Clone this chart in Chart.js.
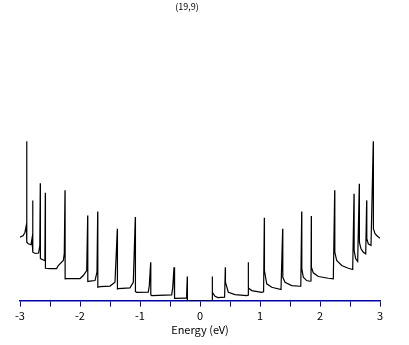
<!DOCTYPE html>
<html>
<head>
<meta charset="utf-8">
<script src="https://cdn.jsdelivr.net/npm/chart.js@4/dist/chart.umd.min.js"></script>
<style>
  body { margin: 0; background: #fff; }
</style>
</head>
<body>
<canvas id="dos_chart" width="409" height="345"></canvas>
<script>
const chartTitle = "(19,9)";
const axisTitle = "Energy (eV)";
const tickLabels = [-3, -2, -1, 0, 1, 2, 3];

// density of states (arbitrary units), valence side
const energyNeg = [
  -3.000, -2.945, -2.917, -2.895, -2.888, -2.886, -2.862, -2.817, -2.800, -2.788,
  -2.786, -2.745, -2.690, -2.670, -2.662, -2.660, -2.595, -2.585, -2.578, -2.576,
  -2.500, -2.390, -2.362, -2.278, -2.262, -2.250, -2.248, -2.222, -2.000, -1.945,
  -1.888, -1.872, -1.870, -1.833, -1.750, -1.717, -1.705, -1.703, -1.667, -1.500,
  -1.417, -1.378, -1.376, -1.362, -1.167, -1.112, -1.078, -1.076, -1.055, -0.862,
  -0.845, -0.822, -0.820, -0.805, -0.472, -0.455, -0.433, -0.431, -0.417, -0.233,
  -0.222, -0.212, -0.210
];
const dosNeg = [
  6.33, 6.5, 6.83, 7.5, 15.9, 5.83, 5.67, 5.57, 6.2, 10.0,
  4.83, 4.7, 4.75, 5.5, 11.7, 4.2, 4.0, 4.5, 10.77, 3.23,
  3.2, 3.2, 3.5, 4.0, 4.7, 11.0, 2.17, 2.2, 2.2, 2.5,
  3.0, 8.5, 1.9, 1.95, 2.0, 2.83, 8.9, 1.33, 1.4, 1.45,
  1.83, 7.17, 1.17, 1.2, 1.27, 1.83, 8.33, 0.9, 0.83, 0.85,
  1.5, 3.83, 0.57, 0.5, 0.57, 1.27, 3.33, 0.27, 0.23, 0.25,
  0.67, 2.4, 0
];

// conduction side
const energyPos = [
  0.205, 0.205, 0.207, 0.250, 0.300, 0.410, 0.422, 0.424, 0.472, 0.583,
  0.778, 0.800, 0.805, 0.807, 0.862, 1.028, 1.060, 1.072, 1.074, 1.112,
  1.195, 1.350, 1.378, 1.380, 1.417, 1.528, 1.667, 1.680, 1.695, 1.697,
  1.722, 1.778, 1.833, 1.850, 1.855, 1.857, 1.888, 1.972, 2.138, 2.222,
  2.245, 2.247, 2.278, 2.362, 2.472, 2.545, 2.567, 2.569, 2.595, 2.628,
  2.655, 2.657, 2.683, 2.722, 2.762, 2.778, 2.780, 2.805, 2.850, 2.888,
  2.890, 2.917, 2.945, 3.000
];
const dosPos = [
  0, 2.4, 0.83, 0.43, 0.3, 0.35, 3.33, 1.83, 0.83, 0.6,
  0.5, 0.55, 3.83, 1.27, 1.0, 0.83, 0.88, 8.27, 3.0, 1.67,
  1.33, 1.1, 7.17, 2.33, 1.83, 1.5, 1.43, 1.5, 8.9, 3.17,
  2.33, 2.0, 1.93, 1.95, 8.43, 3.33, 2.77, 2.4, 2.23, 2.17,
  11.0, 4.83, 4.0, 3.5, 3.23, 3.1, 10.67, 5.0, 4.17, 3.9,
  11.67, 5.8, 5.17, 4.83, 4.67, 10.0, 6.17, 5.67, 5.5, 15.9,
  7.17, 6.67, 6.5, 6.23
];

const energy = energyNeg.concat(energyPos);
const dos = dosNeg.concat(dosPos);
const points = energy.map((e, i) => ({ x: e, y: dos[i] }));

const axisBlue = "#0000aa";
const font = "'Noto Sans CJK JP', 'DejaVu Sans', sans-serif";

const titlePlugin = {
  id: "topTitle",
  afterDraw(chart) {
    const ctx = chart.ctx;
    ctx.save();
    ctx.font = "9px " + font;
    ctx.fillStyle = "#000";
    ctx.textAlign = "center";
    ctx.textBaseline = "middle";
    ctx.fillText(chartTitle, 187, 6.5);
    ctx.restore();
  },
};

new Chart(document.getElementById("dos_chart"), {
  type: "line",
  data: {
    datasets: [
      {
        data: points,
        borderColor: "#000",
        borderWidth: 1.2,
        pointRadius: 0,
        tension: 0,
        fill: false,
      },
    ],
  },
  options: {
    responsive: false,
    animation: false,
    layout: { padding: { top: 20, left: 20, right: 29, bottom: 7 } },
    plugins: {
      legend: { display: false },
      tooltip: { enabled: false },
    },
    scales: {
      x: {
        type: "linear",
        min: -3,
        max: 3,
        ticks: {
          stepSize: 0.5,
          autoSkip: false,
          maxRotation: 0,
          padding: 3,
          color: "#000",
          font: { family: font, size: 11 },
          callback: (v) => (tickLabels.includes(v) ? String(v) : ""),
        },
        grid: {
          drawOnChartArea: false,
          drawTicks: true,
          tickLength: 6,
          color: axisBlue,
          lineWidth: 1,
        },
        border: { color: axisBlue, width: 1.5 },
        title: {
          display: true,
          text: axisTitle,
          color: "#000",
          font: { family: font, size: 11 },
          padding: { top: -3, bottom: 2 },
        },
      },
      y: {
        display: false,
        min: 0,
        max: 28,
      },
    },
  },
  plugins: [titlePlugin],
});
</script>
</body>
</html>
